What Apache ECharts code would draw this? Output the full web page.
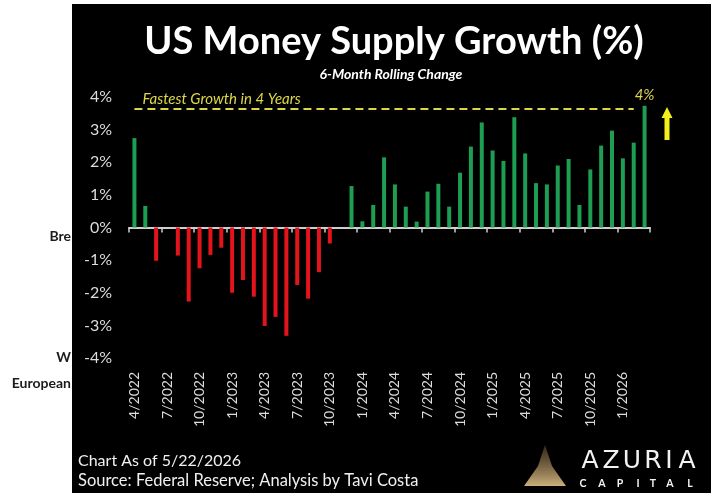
<!DOCTYPE html>
<html>
<head>
<meta charset="utf-8">
<title>US Money Supply Growth (%)</title>
<script src="https://cdn.jsdelivr.net/npm/echarts@6/dist/echarts.min.js"></script>
<style>
  html, body { margin: 0; padding: 0; background: #fff; }
  #chart { width: 711px; height: 493px; }
</style>
</head>
<body>
<div id="chart"></div>
<script>
// 6-month rolling change in US money supply, monthly
var months = [
  "4/2022", "5/2022", "6/2022", "7/2022", "8/2022", "9/2022",
  "10/2022", "11/2022", "12/2022", "1/2023", "2/2023", "3/2023",
  "4/2023", "5/2023", "6/2023", "7/2023", "8/2023", "9/2023",
  "10/2023", "11/2023", "12/2023", "1/2024", "2/2024", "3/2024",
  "4/2024", "5/2024", "6/2024", "7/2024", "8/2024", "9/2024",
  "10/2024", "11/2024", "12/2024", "1/2025", "2/2025", "3/2025",
  "4/2025", "5/2025", "6/2025", "7/2025", "8/2025", "9/2025",
  "10/2025", "11/2025", "12/2025", "1/2026", "2/2026", "3/2026"
];
var growth = [
  2.74, 0.66, -1.02, 0, -0.86, -2.27,
  -1.25, -0.84, -0.62, -2.0, -1.61, -2.12,
  -3.02, -2.74, -3.32, -1.76, -2.18, -1.37,
  -0.49, 0, 1.27, 0.19, 0.69, 2.15,
  1.32, 0.64, 0.18, 1.10, 1.34, 0.64,
  1.68, 2.48, 3.22, 2.36, 2.04, 3.38,
  2.27, 1.36, 1.32, 1.90, 2.10, 0.69,
  1.78, 2.51, 2.97, 2.12, 2.60, 3.73
];
var yTicks = [-4, -3, -2, -1, 0, 1, 2, 3, 4];
var fastestLevel = 3.65;
var fastestText = "Fastest Growth in 4 Years";
var lastLabel = "4%";

var FONT = "Lato, 'Open Sans', sans-serif";
var GREEN = "#1e9e52";
var RED = "#e3141b";
var YELLOW = "#dcd64a";
var AXIS_TXT = "#dcdcdc";

var chart = echarts.init(document.getElementById("chart"), null, { renderer: "canvas" });

var barData = growth.map(function (v, i) {
  var item = { value: v, itemStyle: { color: v >= 0 ? GREEN : RED } };
  if (i === growth.length - 1) {
    item.label = {
      show: true, position: "top", distance: 3, formatter: lastLabel,
      color: YELLOW, fontStyle: "italic", fontSize: 15, fontFamily: FONT
    };
  }
  return item;
});

// logo letters, placed one by one to get the wide tracking
function spaced(text, xs, y, font) {
  return text.split("").map(function (ch, i) {
    return {
      type: "text", x: xs[i], y: y, z: 51,
      style: { text: ch, fill: "#f2f2f2", font: font, textAlign: "center", textVerticalAlign: "middle" }
    };
  });
}

var graphics = [
  // white margins around the black panel
  { type: "rect", left: 0, top: 0, shape: { width: 72, height: 493 }, style: { fill: "#fff" }, z: 50 },
  { type: "rect", left: 0, top: 0, shape: { width: 711, height: 4 }, style: { fill: "#fff" }, z: 50 },
  { type: "text", right: 711 - 71, top: 229, z: 51,
    style: { text: "Bre", fill: "#1c1c1c", font: "bold 14px " + FONT } },
  { type: "text", right: 711 - 71, top: 350, z: 51,
    style: { text: "W", fill: "#1c1c1c", font: "bold 14px " + FONT } },
  { type: "text", right: 711 - 71, top: 376, z: 51,
    style: { text: "European", fill: "#1c1c1c", font: "bold 14px " + FONT } },
  // title block
  { type: "text", x: 394, y: 42, z: 51,
    style: { text: "US Money Supply Growth (%)", fill: "#fff", font: "bold 38px " + FONT,
             textAlign: "center", textVerticalAlign: "middle" } },
  { type: "text", x: 391, y: 74, z: 51,
    style: { text: "6-Month Rolling Change", fill: "#fff", font: "italic bold 14px " + FONT,
             textAlign: "center", textVerticalAlign: "middle" } },
  // up arrow next to the last bar
  { type: "polygon", z: 51,
    shape: { points: [[667, 107], [672.5, 118], [669.5, 118], [669.5, 140], [664.5, 140], [664.5, 118], [661.5, 118]] },
    style: { fill: "#f2ee1c" } },
  // footer
  { type: "text", x: 78, y: 461, z: 51,
    style: { text: "Chart As of 5/22/2026", fill: "#f0f0f0", font: "16px " + FONT,
             textVerticalAlign: "middle" } },
  { type: "text", x: 78, y: 481, z: 51,
    style: { text: "Source: Federal Reserve; Analysis by Tavi Costa", fill: "#f0f0f0", font: "16.5px " + FONT,
             textVerticalAlign: "middle" } },
  // Azuria logo mark
  { type: "polygon", z: 51,
    shape: { points: [[545, 445], [552, 466], [566, 486], [524, 486], [538, 466]] },
    style: {
      fill: new echarts.graphic.LinearGradient(0, 0, 0, 1, [
        { offset: 0, color: "rgba(110,85,50,0.5)" },
        { offset: 1, color: "rgba(215,185,130,0.95)" }
      ])
    } }
];
graphics = graphics
  .concat(spaced("AZURIA", [590, 611, 632, 653, 669, 687], 461, "25px 'DejaVu Sans', sans-serif"))
  .concat(spaced("CAPITAL", [583, 602, 620, 638, 653, 670, 690], 484, "bold 10.5px " + FONT));

chart.setOption({
  backgroundColor: "#000",
  animation: false,
  textStyle: { fontFamily: FONT },
  grid: { left: 129, right: 61, top: 97, bottom: 135, containLabel: false },
  xAxis: [
    {
      type: "category",
      data: months,
      position: "bottom",
      axisLine: { show: false, onZero: false },
      axisTick: { show: false },
      axisLabel: {
        interval: 2, rotate: 90, margin: 14,
        color: AXIS_TXT, fontSize: 14, fontFamily: FONT
      }
    },
    {
      type: "category",
      data: months,
      position: "top",
      axisLine: { show: true, onZero: true, lineStyle: { color: "#cfcfcf", width: 2 } },
      axisTick: { show: true, interval: 2, inside: true, length: 5, lineStyle: { color: "#cfcfcf", width: 1.5 } },
      axisLabel: { show: false }
    }
  ],
  yAxis: {
    type: "value",
    min: yTicks[0],
    max: yTicks[yTicks.length - 1],
    interval: 1,
    axisLine: { show: false },
    axisTick: { show: false },
    splitLine: { show: false },
    axisLabel: {
      margin: 17, color: AXIS_TXT, fontSize: 16, fontFamily: FONT,
      formatter: "{value}%"
    }
  },
  series: [
    {
      type: "bar",
      xAxisIndex: 0,
      barWidth: 4,
      data: barData,
      markLine: {
        silent: true,
        symbol: "none",
        lineStyle: { color: YELLOW, type: [8, 5], width: 2 },
        label: {
          show: true, position: "insideStartTop", formatter: fastestText,
          color: YELLOW, fontStyle: "italic", fontSize: 15, fontFamily: FONT,
          distance: [8, 2]
        },
        data: [[
          { coord: [months[0], fastestLevel] },
          { coord: [months[months.length - 2], fastestLevel] }
        ]]
      }
    }
  ],
  graphic: graphics
});
</script>
</body>
</html>
